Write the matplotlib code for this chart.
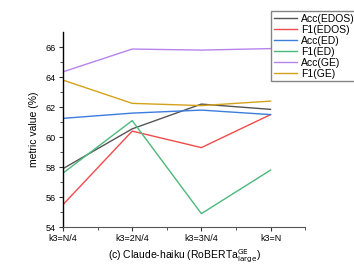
import matplotlib.pyplot as plt

plt.rcParams["font.family"] = ["Liberation Sans", "DejaVu Sans"]

x_labels = ["k3=N/4", "k3=2N/4", "k3=3N/4", "k3=N"]
acc_edos = [57.9, 60.55, 62.2, 61.85]
f1_edos = [55.5, 60.4, 59.3, 61.5]
acc_ed = [61.25, 61.6, 61.8, 61.5]
f1_ed = [57.6, 61.1, 54.9, 57.8]
acc_ge = [64.35, 65.87, 65.8, 65.9]
f1_ge = [63.8, 62.25, 62.1, 62.4]

series = [
    ("Acc(EDOS)", acc_edos, "#555555"),
    ("F1(EDOS)", f1_edos, "#f24b4b"),
    ("Acc(ED)", acc_ed, "#3b7ddd"),
    ("F1(ED)", f1_ed, "#4cb97a"),
    ("Acc(GE)", acc_ge, "#b784ee"),
    ("F1(GE)", f1_ge, "#d4a21a"),
]

fig = plt.figure(figsize=(3.54, 2.72), dpi=100)
ax = fig.add_axes([0.178, 0.165, 0.684, 0.717])

xs = list(range(len(x_labels)))
for name, vals, col in series:
    ax.plot(xs, vals, color=col, lw=1.0, label=name)

ax.set_xlim(0, 3.5)
ax.set_ylim(54, 67)
ax.set_xticks(xs)
ax.set_xticklabels(x_labels)
ax.set_xticks([0.5, 1.5, 2.5, 3.5], minor=True)
ax.set_yticks([54, 56, 58, 60, 62, 64, 66])
ax.set_yticks(range(55, 67, 2), minor=True)
ax.tick_params(axis="both", which="major", labelsize=6.5, length=3, width=0.8, color="#333333", pad=2)
ax.tick_params(axis="both", which="minor", length=2, width=0.6, color="#333333")

for s in ("top", "right"):
    ax.spines[s].set_visible(False)
ax.spines["left"].set_linewidth(1.0)
ax.spines["bottom"].set_linewidth(0.8)
ax.spines["bottom"].set_color("#555555")

ax.set_ylabel("metric value (%)", fontsize=7.5, labelpad=5)
ax.set_xlabel(r"(c) Claude-haiku (RoBERTa$_{\mathrm{large}}^{\mathrm{GE}}$)", fontsize=7.5, labelpad=3)

fig.legend(loc="upper left", bbox_to_anchor=(271 / 354, 1 - 11 / 272),
           fontsize=7.5, frameon=True, fancybox=False, edgecolor="#666666",
           handlelength=2.2, handletextpad=0.4, labelspacing=0.1,
           borderpad=0.25, borderaxespad=0)

fig.savefig("out.png", dpi=100)
